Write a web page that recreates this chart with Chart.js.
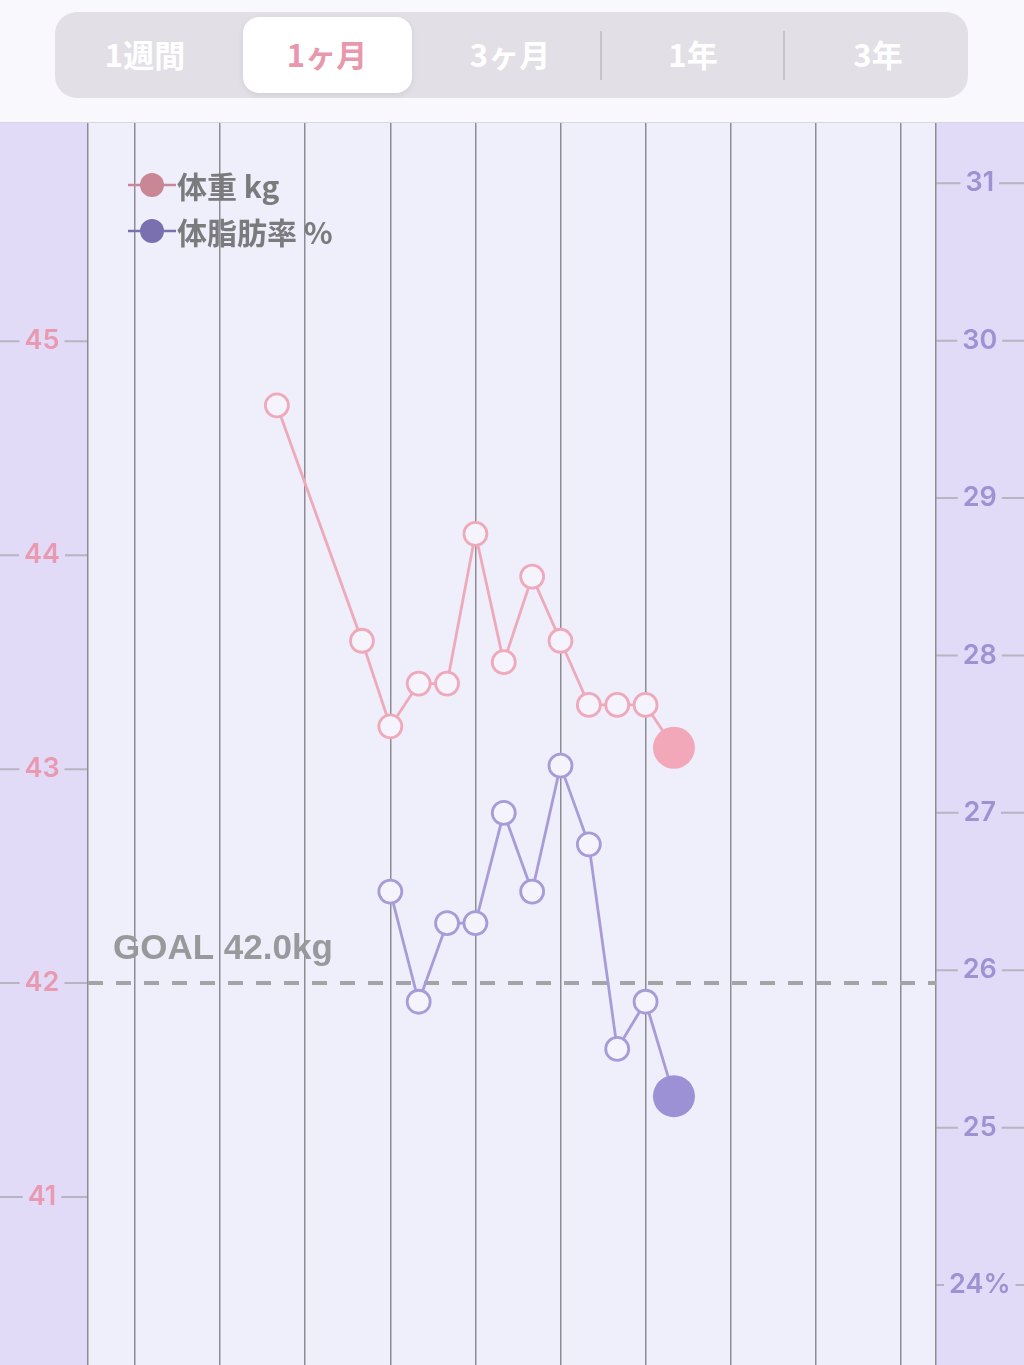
<!DOCTYPE html>
<html lang="ja">
<head>
<meta charset="utf-8">
<title>体重・体脂肪率 1ヶ月</title>
<script src="https://cdn.jsdelivr.net/npm/chart.js@4.4.1/dist/chart.umd.min.js"></script>
<style>
  html, body { margin: 0; padding: 0; background: #f9f8fc; }
  body { width: 1024px; height: 1365px; overflow: hidden; position: relative; font-family: "Noto Sans CJK JP", sans-serif; }
  .header { position: absolute; left: 0; top: 0; width: 1024px; height: 122px; border-bottom: 1px solid #d8d7dd; background: #f9f8fc; }
  .seg { position: absolute; left: 55px; top: 12px; width: 913px; height: 86px; border-radius: 22px; background: #e2e0e6; }
  .sel { position: absolute; left: 188px; top: 5px; width: 169px; height: 76px; border-radius: 16px; background: #fff; box-shadow: 0 2px 6px rgba(0,0,0,0.08); }
  .tab { position: absolute; top: 0; height: 86px; line-height: 84px; width: 180px; margin-left: -90px; text-align: center; color: #fff; font-weight: 700; font-size: 31px; }
  .tab.on { color: #e997ad; }
  .sep { position: absolute; top: 19px; width: 2px; height: 49px; background: #c5c4ca; }
  #wrap { position: absolute; left: 0; top: 123px; width: 1024px; height: 1242px; }
</style>
</head>
<body>
<div class="header">
  <div class="seg">
    <div class="sel"></div>
    <div class="tab" style="left:90px">1週間</div>
    <div class="tab on" style="left:272px">1ヶ月</div>
    <div class="tab" style="left:455px">3ヶ月</div>
    <div class="sep" style="left:545px"></div>
    <div class="tab" style="left:638px">1年</div>
    <div class="sep" style="left:728px"></div>
    <div class="tab" style="left:823px">3年</div>
  </div>
</div>
<div id="wrap"><canvas id="chart" width="1024" height="1242"></canvas></div>
<script>
// days since the first grid line of the month view
const days = [5, 8, 9, 10, 11, 12, 13, 14, 15, 16, 17, 18, 19];
const weightKg = [44.7, 43.6, 43.2, 43.4, 43.4, 44.1, 43.5, 43.9, 43.6, 43.3, 43.3, 43.3, 43.1];
const fatPct = [null, null, 26.5, 25.8, 26.3, 26.3, 27.0, 26.5, 27.3, 26.8, 25.5, 25.8, 25.2];
const gridDays = [0, 3, 6, 9, 12, 15, 18, 21, 24, 27];
const kgTicks = [41, 42, 43, 44, 45];
const pctTicks = [24, 25, 26, 27, 28, 29, 30, 31];
const goalKg = 42.0;
const seriesLabels = ['体重 kg', '体脂肪率 %'];

const NUM_FONT = 'Inter, "Noto Sans", sans-serif';
const JP_FONT = '"Noto Sans CJK JP", sans-serif';
const PANEL = '#e1dbf8';
const PLOT_BG = '#efeefb';
const last = days.length - 1;

// no extra room for half-labels: the plot runs edge to edge
function noPadding(s) {
  s.paddingTop = 0;
  s.paddingBottom = 0;
  s.paddingLeft = 0;
  s.paddingRight = 0;
}

const panels = {
  id: 'panels',
  beforeDraw(chart) {
    const { ctx, chartArea: a, width, height, scales } = chart;
    ctx.save();
    ctx.fillStyle = PANEL;
    ctx.fillRect(0, 0, a.left, height);
    ctx.fillRect(a.right, 0, width - a.right, height);
    ctx.fillStyle = PLOT_BG;
    ctx.fillRect(a.left, 0, a.right - a.left, height);
    // tick lines across the side panels, labels sit on top of them
    ctx.strokeStyle = '#b7b5bf';
    ctx.lineWidth = 2;
    ctx.beginPath();
    for (const t of scales.kg.ticks) {
      const y = scales.kg.getPixelForValue(t.value);
      ctx.moveTo(0, y);
      ctx.lineTo(a.left, y);
    }
    for (const t of scales.pct.ticks) {
      const y = scales.pct.getPixelForValue(t.value);
      ctx.moveTo(a.right, y);
      ctx.lineTo(width, y);
    }
    ctx.stroke();
    ctx.restore();
  }
};

const goal = {
  id: 'goal',
  beforeDatasetsDraw(chart) {
    const { ctx, chartArea: a, scales: { kg } } = chart;
    const y = kg.getPixelForValue(goalKg);
    ctx.save();
    ctx.setLineDash([15, 13]);
    ctx.lineWidth = 4;
    ctx.strokeStyle = '#a3a3a8';
    ctx.beginPath();
    ctx.moveTo(a.left, y);
    ctx.lineTo(a.right, y);
    ctx.stroke();
    ctx.setLineDash([]);
    ctx.font = 'bold 35px "Liberation Sans", Arial, sans-serif';
    ctx.fillStyle = '#99999c';
    ctx.textBaseline = 'alphabetic';
    ctx.fillText(`GOAL ${goalKg.toFixed(1)}kg`, a.left + 25, y - 24);
    ctx.restore();
  }
};

const legendBox = {
  id: 'legendBox',
  afterDatasetsDraw(chart) {
    const { ctx, chartArea: a } = chart;
    ctx.save();
    chart.data.datasets.forEach((ds, i) => {
      const y = a.top + 62 + i * 46;
      ctx.strokeStyle = ds.legendColor;
      ctx.lineWidth = 2.5;
      ctx.beginPath();
      ctx.moveTo(a.left + 40, y);
      ctx.lineTo(a.left + 88, y);
      ctx.stroke();
      ctx.fillStyle = ds.legendColor;
      ctx.beginPath();
      ctx.arc(a.left + 64, y, 12, 0, Math.PI * 2);
      ctx.fill();
      ctx.font = `bold 30px ${JP_FONT}`;
      ctx.fillStyle = '#7b7b7d';
      ctx.textBaseline = 'middle';
      ctx.fillText(ds.label, a.left + 89, y + 2);
    });
    ctx.restore();
  }
};

function pointStyle(fill) {
  return {
    pointRadius: c => (c.dataIndex === last ? 21 : 11.5),
    pointHoverRadius: c => (c.dataIndex === last ? 21 : 11.5),
    pointBackgroundColor: c => (c.dataIndex === last ? fill : '#f5f4fd'),
    pointBorderWidth: c => (c.dataIndex === last ? 0 : 2.8),
  };
}

new Chart(document.getElementById('chart'), {
  type: 'line',
  data: {
    datasets: [
      {
        label: seriesLabels[0],
        yAxisID: 'kg',
        data: days.map((d, i) => ({ x: d, y: weightKg[i] })),
        borderColor: '#eeaabb',
        pointBorderColor: '#eeaabb',
        borderWidth: 2.8,
        legendColor: '#c98796',
        ...pointStyle('#f2a8b9'),
      },
      {
        label: seriesLabels[1],
        yAxisID: 'pct',
        data: days.map((d, i) => ({ x: d, y: fatPct[i] })),
        borderColor: '#a89cd8',
        pointBorderColor: '#a89cd8',
        borderWidth: 2.8,
        legendColor: '#7a70b0',
        ...pointStyle('#9d91d5'),
      },
    ],
  },
  options: {
    responsive: false,
    animation: false,
    layout: { padding: 0, autoPadding: false },
    plugins: { legend: { display: false }, tooltip: { enabled: false } },
    scales: {
      x: {
        type: 'linear',
        min: -1.66,
        max: 28.24,
        afterBuildTicks: s => { s.ticks = [s.min, ...gridDays, s.max].map(v => ({ value: v })); },
        afterFit: s => { s.height = 0; noPadding(s); },
        ticks: { display: false },
        grid: { color: '#8d8c95', lineWidth: 1.5, drawTicks: false },
        border: { display: false },
      },
      kg: {
        position: 'left',
        min: 40.215,
        max: 46.02,
        afterBuildTicks: s => { s.ticks = kgTicks.map(v => ({ value: v })); },
        afterFit: s => { s.width = 88; noPadding(s); },
        grid: { display: false },
        border: { display: false },
        ticks: {
          color: '#e999b0',
          font: { family: NUM_FONT, size: 27, weight: '600' },
          padding: 20,
          crossAlign: 'center',
          showLabelBackdrop: true,
          backdropColor: PANEL,
          backdropPadding: { left: 5, right: 5, top: 0, bottom: 0 },
        },
      },
      pct: {
        position: 'right',
        min: 23.492,
        max: 31.383,
        afterBuildTicks: s => { s.ticks = pctTicks.map(v => ({ value: v })); },
        afterFit: s => { s.width = 88; noPadding(s); },
        grid: { display: false },
        border: { display: false },
        ticks: {
          color: '#9d93d2',
          font: { family: NUM_FONT, size: 27, weight: '600' },
          padding: 5,
          crossAlign: 'center',
          showLabelBackdrop: true,
          backdropColor: PANEL,
          backdropPadding: { left: 5, right: 5, top: 0, bottom: 0 },
          callback: v => (v === pctTicks[0] ? `${v}%` : `${v}`),
        },
      },
    },
  },
  plugins: [panels, goal, legendBox],
});
</script>
</body>
</html>
